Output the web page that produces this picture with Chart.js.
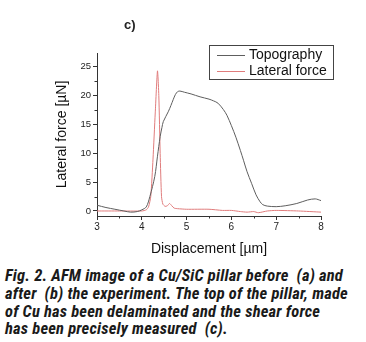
<!DOCTYPE html>
<html><head><meta charset="utf-8">
<script src="https://cdn.jsdelivr.net/npm/chart.js@4.4.1/dist/chart.umd.min.js"></script>
<style>
html,body{margin:0;padding:0;background:#fff;width:366px;height:342px;overflow:hidden;}
#wrap{position:absolute;left:0;top:0;width:366px;height:262px;}
#title{position:absolute;left:124px;top:17px;font:bold 13px "Liberation Sans",Arial,sans-serif;color:#222;}
#cap{position:absolute;left:5px;top:267px;width:361px;font:italic bold 16.5px "Roboto Condensed","Liberation Sans Narrow",sans-serif;line-height:17.8px;color:#1a1a1a;letter-spacing:0.2px;white-space:nowrap;}
</style></head><body>
<div id="wrap"><canvas id="c" width="366" height="262"></canvas></div>
<div id="title">c)</div>
<div id="cap">Fig. 2. AFM image of a Cu/SiC pillar before&nbsp; (a) and<br>after&nbsp; (b) the experiment. The top of the pillar, made<br>of Cu has been delaminated and the shear force<br>has been precisely measured&nbsp; (c).</div>
<script>
const seriesNames = ["Topography", "Lateral force"];
const topoX = [3.0,3.2,3.4,3.6,3.75,3.9,4.0,4.1,4.18,4.29,4.35,4.41,4.45,4.48,4.59,4.65,4.7,4.75,4.8,4.85,4.95,5.1,5.3,5.5,5.6,5.7,5.82,5.9,6.0,6.1,6.2,6.27,6.35,6.45,6.55,6.64,6.7,6.8,7.0,7.2,7.46,7.7,7.87,8.0];
const topoY = [1.0,0.6,0.3,0.0,-0.2,-0.1,0.2,0.7,2.5,6.0,9.5,12.9,14.5,15.5,17.2,18.3,19.3,20.2,20.7,20.8,20.6,20.3,19.8,19.4,19.1,18.7,17.6,16.6,14.8,12.8,10.5,8.8,6.8,4.8,2.8,1.6,1.1,0.85,0.75,0.9,1.3,1.9,2.1,1.8];
const latX = [3.0,3.5,4.0,4.1,4.15,4.2,4.25,4.3,4.35,4.38,4.41,4.44,4.47,4.52,4.57,4.62,4.67,4.72,4.8,5.0,5.5,5.8,6.0,6.2,6.35,6.5,6.6,6.8,7.0,7.5,8.0];
const latY = [0.0,0.0,0.0,0.2,0.7,2.5,9,17,24.3,20,10,2.5,1.2,0.8,0.9,1.3,0.9,0.5,0.4,0.3,0.3,0.1,0.1,-0.1,-0.2,-0.1,-0.3,0.0,0.1,0.0,-0.2];
const xTicks = [3,4,5,6,7,8];
const yTicks = [0,5,10,15,20,25];
const xMinorTicks = [3.5,4.5,5.5,6.5,7.5];
const yMinorTicks = [2.5,7.5,12.5,17.5,22.5];

const colors = ["#5e5e5e", "#e07c7c"];
const axisColor = "#333";
const FONT = '"Liberation Sans", Arial, sans-serif';

const minorPlugin = {
  id: 'minor',
  afterDraw(chart) {
    const ctx = chart.ctx, xs = chart.scales.x, ys = chart.scales.y;
    ctx.save();
    ctx.strokeStyle = axisColor; ctx.lineWidth = 1;
    ctx.beginPath();
    xMinorTicks.forEach(v => { const px = Math.round(xs.getPixelForValue(v)) + 0.5; ctx.moveTo(px, xs.top); ctx.lineTo(px, xs.top + 2.5); });
    yMinorTicks.forEach(v => { const py = Math.round(ys.getPixelForValue(v)) + 0.5; ctx.moveTo(ys.right, py); ctx.lineTo(ys.right - 2.5, py); });
    ctx.stroke();
    // legend box
    const bx = 209, by = 45, bw = 124, bh = 34;
    ctx.fillStyle = '#fff';
    ctx.fillRect(bx, by, bw, bh);
    ctx.strokeStyle = '#444';
    ctx.strokeRect(bx + 0.5, by + 0.5, bw, bh);
    ctx.font = '14px ' + FONT;
    ctx.textBaseline = 'middle';
    chart.data.datasets.forEach((ds, i) => {
      const ry = by + 9.5 + i * 16.5;
      ctx.strokeStyle = ds.borderColor; ctx.lineWidth = 1;
      ctx.beginPath(); ctx.moveTo(bx + 8, Math.round(ry) + 0.5); ctx.lineTo(bx + 36, Math.round(ry) + 0.5); ctx.stroke();
      ctx.fillStyle = '#111';
      ctx.fillText(ds.label, bx + 40, ry + 0.5);
    });
    ctx.restore();
  }
};

const toPts = (xa, ya) => xa.map((x, i) => ({x, y: ya[i]}));

new Chart(document.getElementById('c'), {
  type: 'line',
  data: {
    datasets: [
      {label: seriesNames[0], data: toPts(topoX, topoY), borderColor: colors[0], borderWidth: 1, pointRadius: 0, tension: 0.3, fill: false},
      {label: seriesNames[1], data: toPts(latX, latY), borderColor: colors[1], borderWidth: 1, pointRadius: 0, tension: 0.2, fill: false}
    ]
  },
  options: {
    responsive: false, animation: false, devicePixelRatio: 1,
    layout: {padding: {left: 50, top: 53, right: 45, bottom: 0}},
    plugins: {legend: {display: false}, tooltip: {enabled: false}},
    scales: {
      x: {
        type: 'linear', min: 3, max: 8,
        afterBuildTicks: s => { s.ticks = xTicks.map(v => ({value: v})); },
        afterFit: s => { s.height = 46; },
        grid: {drawOnChartArea: false, drawTicks: true, tickLength: 4, color: axisColor},
        border: {display: true, color: axisColor, width: 1},
        ticks: {color: '#222', font: {family: FONT, size: 10}, padding: 1, maxRotation: 0},
        title: {display: true, text: 'Displacement [\u00b5m]', color: '#111', font: {family: FONT, size: 14}, padding: {top: 2}}
      },
      y: {
        type: 'linear', min: -0.87, max: 27.4,
        afterBuildTicks: s => { s.ticks = yTicks.map(v => ({value: v})); },
        afterFit: s => { s.width = 47; },
        grid: {drawOnChartArea: false, drawTicks: true, tickLength: 4, color: axisColor},
        border: {display: true, color: axisColor, width: 1},
        ticks: {color: '#222', font: {family: FONT, size: 9.5}, padding: 2},
        title: {display: true, text: 'Lateral force [\u00b5N]', color: '#111', font: {family: FONT, size: 14}, padding: {bottom: 0}}
      }
    }
  },
  plugins: [minorPlugin]
});
</script>
</body></html>
